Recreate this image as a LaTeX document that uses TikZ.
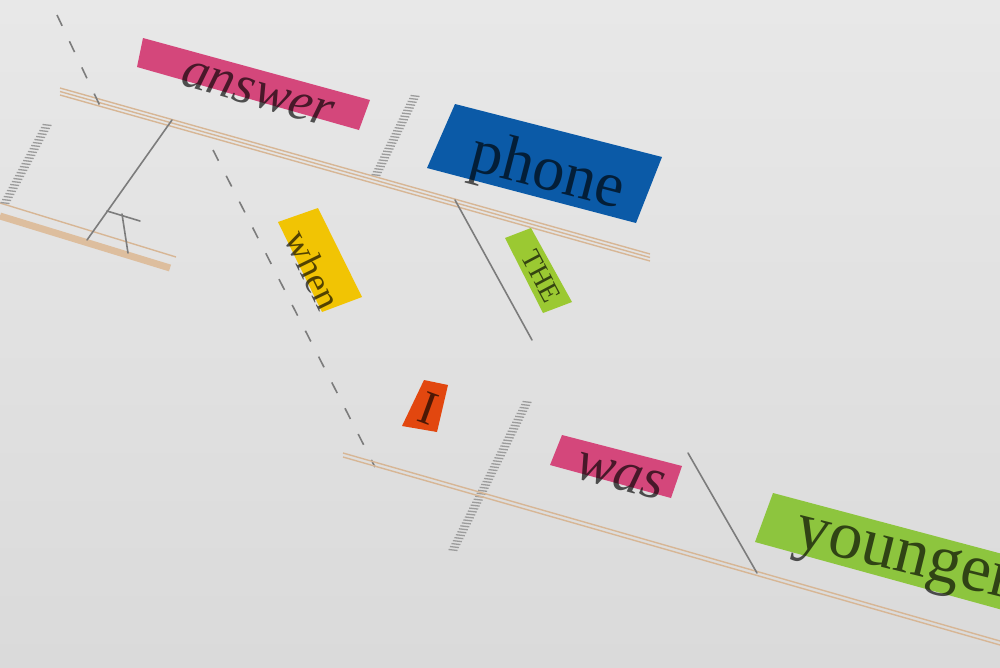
\documentclass[tikz,border=0pt]{standalone}
\usepackage{fontspec}
\setmainfont{Liberation Serif}
\usetikzlibrary{calc}

\definecolor{paperTop}{HTML}{E8E8E8}
\definecolor{paperBottom}{HTML}{DADADA}
\definecolor{railTan}{HTML}{D7B695}
\definecolor{bandTan}{HTML}{DDBE9E}
\definecolor{rungGrey}{HTML}{9C9C9C}
\definecolor{linkGrey}{HTML}{7C7C7C}
\definecolor{verbPink}{HTML}{D4477B}
\definecolor{nounBlue}{HTML}{0B5AA7}
\definecolor{advYellow}{HTML}{F1C404}
\definecolor{artGreen}{HTML}{9BC932}
\definecolor{adjGreen}{HTML}{8DC53E}
\definecolor{pronOrange}{HTML}{E2470F}

\begin{document}
\begin{tikzpicture}[x=1pt,y=-1pt,
  rail/.style={draw=railTan, line width=1.4pt},
  band/.style={draw=bandTan, line width=7pt},
  rung/.style={draw=rungGrey, line width=1.3pt},
  link/.style={draw=linkGrey, line width=1.6pt, line cap=round},
  dashlink/.style={link, line cap=butt, dash pattern=on 12pt off 17pt},
  word/.style={inner sep=0pt, text=black, text opacity=0.66},
  wordsize/.style={font=\fontsize{#1}{#1}\selectfont}]

\useasboundingbox (0,0) rectangle (1000,667);
\clip (0,0) rectangle (1000,667);
\shade[top color=paperTop, bottom color=paperBottom] (0,0) rectangle (1000,667);

% ---------- upper clause: base line and its parts ----------
\coordinate (mainL) at (60,88);
\coordinate (mainR) at (650,254);
\foreach \o in {0,3.5,7}
  \draw[rail] ($(mainL)+(0,\o)$) -- ($(mainR)+(0,\o)$);

% left-hand fragment of a second base line
\coordinate (leftL) at (0,203);
\coordinate (leftR) at (176,257);
\draw[rail] (leftL) -- (leftR);
\draw[band] (0,216) -- (170,268);

% hatched dividers (subject | predicate)
\coordinate (divAtop) at (47,125);
\coordinate (divAbot) at (5,203);
\coordinate (divBtop) at (415,96);
\coordinate (divBbot) at (376,175);
\coordinate (divCtop) at (527,402);
\coordinate (divCbot) at (453,550);
\foreach \i in {0,...,26}
  \draw[rung] ($(divAtop)!\i/26!(divAbot)+(-4.5,-0.5)$) -- ++(9,1);
\foreach \i in {0,...,27}
  \draw[rung] ($(divBtop)!\i/27!(divBbot)+(-4.5,-0.5)$) -- ++(9,1);
\foreach \i in {0,...,50}
  \draw[rung] ($(divCtop)!\i/50!(divCbot)+(-4.5,-0.5)$) -- ++(9,1);

% fork hanging from the upper base line
\coordinate (forkTop) at (172,120);
\coordinate (forkFoot) at (87,240);
\coordinate (forkJoin) at (122,214);
\coordinate (forkLeg) at (128,253);
\coordinate (barL) at (107,211);
\coordinate (barR) at (140,221);
\draw[link] (forkTop) -- (forkFoot);
\draw[link] (forkJoin) -- (forkLeg);
\draw[link] (barL) -- (barR);

% dashed connectors
\coordinate (dashAtop) at (57,15);
\coordinate (dashAbot) at (101,108);
\draw[dashlink] (dashAtop) -- (dashAbot);
\coordinate (whenTop) at (213,150);
\coordinate (whenBot) at (375,467);
\draw[dashlink] (whenTop) -- (whenBot);

% article slant under "phone"
\coordinate (theTop) at (455,200);
\coordinate (theBot) at (532,340);
\draw[link] (theTop) -- (theBot);

% ---------- lower clause ----------
\coordinate (lowL) at (343,453);
\coordinate (lowR) at (1000,641);
\draw[rail] (lowL) -- (lowR);
\draw[rail] ($(lowL)+(0,4)$) -- ($(lowR)+(0,4)$);

\coordinate (compTop) at (688,453);
\coordinate (compBot) at (757,573);
\draw[link] (compTop) -- (compBot);

% ---------- word tags ----------
\fill[verbPink] (143,38) -- (370,100) -- (359,130) -- (137,67) -- cycle;
\fill[nounBlue] (455,104) -- (662,157) -- (636,223) -- (427,168) -- cycle;
\fill[advYellow] (278,222) -- (318,208) -- (362,297) -- (322,312) -- cycle;
\fill[artGreen] (505,238) -- (531,228) -- (572,302) -- (543,313) -- cycle;
\fill[pronOrange] (424,380) -- (448,385) -- (437,432) -- (402,426) -- cycle;
\fill[verbPink] (562,435) -- (682,466) -- (671,498) -- (550,465) -- cycle;
\fill[adjGreen] (773,493) -- (1010,556) -- (1010,612) -- (755,542) -- cycle;

\node[word, wordsize=54, anchor=base, rotate=-16] (answer) at (254,106) {\itshape answer};
\node[word, wordsize=64, anchor=base, rotate=-14.5] (phone) at (543,189) {phone};
\node[word, wordsize=38, rotate=-64] (when) at (313,270) {when};
\node[word, wordsize=28, rotate=-62] (the) at (541,276) {THE};
\node[word, wordsize=48, rotate=-20] (pronI) at (428,408) {I};
\node[word, wordsize=58, anchor=base, rotate=-15] (was) at (617,489) {\itshape was};
\node[word, wordsize=68, anchor=base west, rotate=-14] (younger) at (792,545) {younger};

\end{tikzpicture}
\end{document}
